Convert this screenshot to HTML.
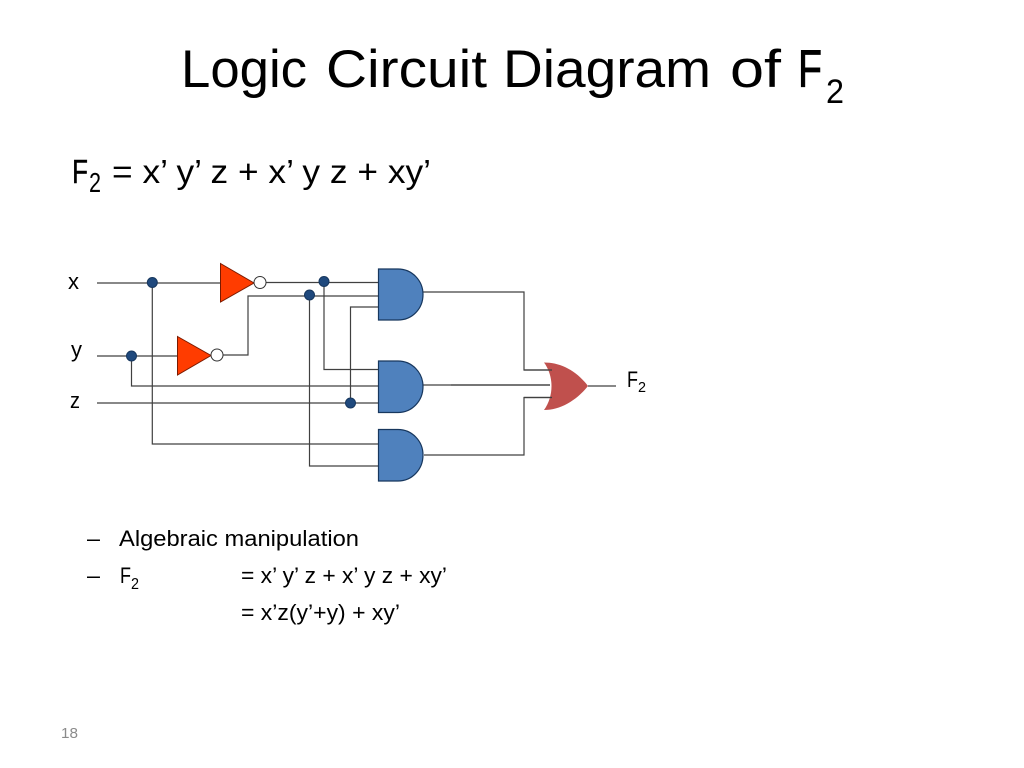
<!DOCTYPE html>
<html>
<head>
<meta charset="utf-8">
<style>
html,body{margin:0;padding:0;background:#fff;}
svg{display:block;}
text{font-family:"Liberation Sans",sans-serif;fill:#000;}
</style>
</head>
<body>
<svg width="1024" height="768" viewBox="0 0 1024 768" xmlns="http://www.w3.org/2000/svg">
<rect width="1024" height="768" fill="#fff"/>
<text x="181" y="87" font-size="53" textLength="126" lengthAdjust="spacingAndGlyphs">Logic</text>
<text x="326" y="87" font-size="53" textLength="161" lengthAdjust="spacingAndGlyphs">Circuit</text>
<text x="503" y="87" font-size="53" textLength="208" lengthAdjust="spacingAndGlyphs">Diagram</text>
<text x="730" y="87" font-size="53" textLength="51" lengthAdjust="spacingAndGlyphs">of</text>
<text x="798" y="87" font-size="53" textLength="24" lengthAdjust="spacingAndGlyphs" stroke="#000" stroke-width="0.8">F</text>
<text x="826" y="103" font-size="34" textLength="18" lengthAdjust="spacingAndGlyphs">2</text>
<text x="72" y="183" font-size="33" textLength="16" lengthAdjust="spacingAndGlyphs" stroke="#000" stroke-width="0.4">F</text>
<text x="89" y="192" font-size="28" textLength="12" lengthAdjust="spacingAndGlyphs">2</text>
<text x="112" y="183" font-size="33" textLength="319" lengthAdjust="spacingAndGlyphs">= x’ y’ z + x’ y z + xy’</text>
<text x="68" y="289" font-size="22" textLength="11" lengthAdjust="spacingAndGlyphs">x</text>
<text x="71" y="357" font-size="22" textLength="11" lengthAdjust="spacingAndGlyphs">y</text>
<text x="70" y="408" font-size="22" textLength="10" lengthAdjust="spacingAndGlyphs">z</text>
<text x="627" y="387" font-size="22" textLength="11" lengthAdjust="spacingAndGlyphs">F</text>
<text x="638" y="392" font-size="15" textLength="8" lengthAdjust="spacingAndGlyphs">2</text>
<g fill="none" stroke="#404040" stroke-width="1.2">
<path d="M97 283H220"/>
<path d="M266 282.500H378"/>
<path d="M223 355H248V296H378"/>
<path d="M97 356H177"/>
<path d="M131.500 356V386H378"/>
<path d="M97 403H378"/>
<path d="M350.500 403V307H378"/>
<path d="M324 282V369.500H378"/>
<path d="M152.300 283V444H378"/>
<path d="M309.500 295V466H378"/>
<path d="M423 292H524V370H552"/>
<path d="M423 385H550"/>
<path d="M424 455H524V397.500H552"/>
<path d="M588 386H616"/>
</g>
<path d="M544 362.500C560 362.500 576 370 588 386C576 401 560 410 544 410C554 396 554 376 544 362.500Z" fill="#c0504d"/>
<g fill="none" stroke="#404040" stroke-width="1.200"><path d="M524 370H552M524 397.500H552M451 385H550"/></g>
<g fill="#4f81bd" stroke="#17375e" stroke-width="1.200">
<path d="M378.500 269H398C412 269 423 280.500 423 294.500C423 309 412 320 398 320H378.500Z"/>
<path d="M378.500 361H398C412 361 423 372.500 423 386.500C423 401 412 412.500 398 412.500H378.500Z"/>
<path d="M378.500 429.500H398C412 429.500 423 441 423 455C423 469.500 412 481 398 481H378.500Z"/>
</g>
<g fill="#ff3c00" stroke="#7a1a00" stroke-width="1">
<path d="M220.500 263.500L254 283L220.500 302Z"/>
<path d="M177.500 336.500L211 355.500L177.500 375Z"/>
</g>
<g fill="#fff" stroke="#333" stroke-width="1">
<circle cx="260" cy="282.500" r="6"/>
<circle cx="217" cy="355" r="6"/>
</g>
<g fill="#1f497d" stroke="#17375e" stroke-width="1">
<circle cx="152.300" cy="282.500" r="5"/>
<circle cx="324" cy="281.500" r="5"/>
<circle cx="309.500" cy="295" r="5"/>
<circle cx="131.500" cy="356" r="5"/>
<circle cx="350.500" cy="403" r="5"/>
</g>
<text x="87" y="546" font-size="22" textLength="13" lengthAdjust="spacingAndGlyphs">–</text>
<text x="119" y="546" font-size="22" textLength="240" lengthAdjust="spacingAndGlyphs">Algebraic manipulation</text>
<text x="87" y="583" font-size="22" textLength="13" lengthAdjust="spacingAndGlyphs">–</text>
<text x="120" y="583" font-size="22" textLength="11" lengthAdjust="spacingAndGlyphs">F</text>
<text x="131" y="589" font-size="16" textLength="8" lengthAdjust="spacingAndGlyphs">2</text>
<text x="241" y="583" font-size="22" textLength="206" lengthAdjust="spacingAndGlyphs">= x’ y’ z + x’ y z + xy’</text>
<text x="241" y="620" font-size="22" textLength="159" lengthAdjust="spacingAndGlyphs">= x’z(y’+y) + xy’</text>
<text x="61" y="738" font-size="15" textLength="17" lengthAdjust="spacingAndGlyphs" style="fill:#8b8b8b">18</text>
</svg>
</body>
</html>
